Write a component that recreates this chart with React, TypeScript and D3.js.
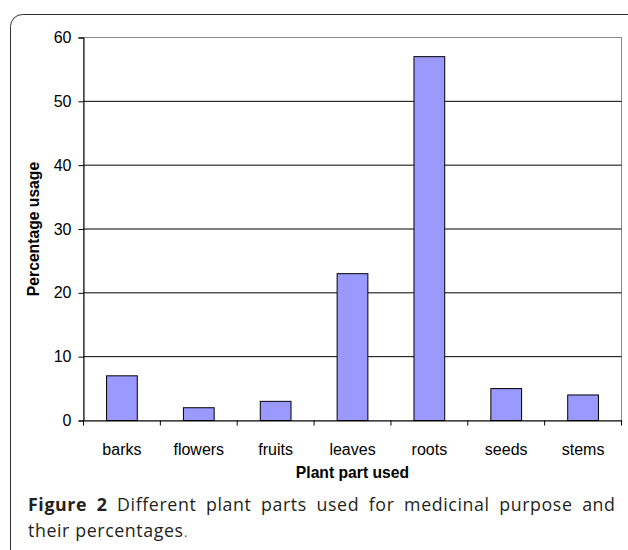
import { useEffect, useRef } from 'react';
import * as d3 from 'd3';

// plant part usage (%)
const categories = ['barks', 'flowers', 'fruits', 'leaves', 'roots', 'seeds', 'stems'];
const percentages = [7, 2, 3, 23, 57, 5, 4];
const yTicks = [0, 10, 20, 30, 40, 50, 60];

const captionBold = ['Figure', '2'];
const captionLine1 = ['Different', 'plant', 'parts', 'used', 'for', 'medicinal', 'purpose', 'and'];
const captionLine2 = 'their percentages';

const W = 628;
const H = 550;
const chartFont = '"Liberation Sans", Arial, sans-serif';
const captionFont = '"Open Sans", "Noto Sans", sans-serif';

const App = () => {
  const ref = useRef<SVGSVGElement>(null);

  useEffect(() => {
    const svg = d3.select(ref.current);
    svg.selectAll('*').remove();

    // outer frame with rounded corners
    svg.append('rect')
      .attr('x', 10.5).attr('y', 14.5)
      .attr('width', 630).attr('height', 600)
      .attr('rx', 12)
      .attr('fill', 'none')
      .attr('stroke', '#333')
      .attr('stroke-width', 1);

    const left = 83.5, right = 621.5, top = 37.5, bottom = 420.5;

    const x = d3.scaleBand().domain(categories).range([left, right]);
    const y = d3.scaleLinear().domain([0, 60]).range([bottom, top]);

    // plot area border
    svg.append('rect')
      .attr('x', left).attr('y', top)
      .attr('width', right - left).attr('height', bottom - top)
      .attr('fill', 'white')
      .attr('stroke', '#888');

    // gridlines
    svg.append('g').selectAll('line')
      .data(yTicks.filter(t => t > 0 && t < 60))
      .enter().append('line')
      .attr('x1', left).attr('x2', right)
      .attr('y1', d => y(d)).attr('y2', d => y(d))
      .attr('stroke', '#000');

    // bars
    const barW = x.bandwidth() * 0.4;
    svg.append('g').selectAll('rect')
      .data(categories)
      .enter().append('rect')
      .attr('x', d => (x(d) as number) + (x.bandwidth() - barW) / 2)
      .attr('y', (d, i) => y(percentages[i]))
      .attr('width', barW)
      .attr('height', (d, i) => bottom - y(percentages[i]))
      .attr('fill', '#9999ff')
      .attr('stroke', '#000')
      .attr('stroke-width', 1);

    // y axis
    const yAxis = svg.append('g')
      .attr('transform', `translate(${left},0)`)
      .call(d3.axisLeft(y).tickValues(yTicks).tickSize(5).tickPadding(7).tickFormat(d3.format('d')));
    yAxis.select('.domain').attr('stroke', '#000');
    yAxis.selectAll('text')
      .attr('font-family', chartFont).attr('font-size', 16).attr('fill', '#000');

    // x axis
    const xAxis = svg.append('g')
      .attr('transform', `translate(0,${bottom})`)
      .call(d3.axisBottom(x).tickSize(0).tickPadding(23));
    xAxis.select('.domain').attr('stroke', '#000');
    xAxis.selectAll('text')
      .attr('font-family', chartFont).attr('font-size', 16).attr('fill', '#000');
    // tick marks on category boundaries
    xAxis.selectAll('line.boundary')
      .data(categories.concat(['end']))
      .enter().append('line')
      .attr('class', 'boundary')
      .attr('x1', (d, i) => left + i * x.bandwidth())
      .attr('x2', (d, i) => left + i * x.bandwidth())
      .attr('y1', 0).attr('y2', 5)
      .attr('stroke', '#000');

    // axis titles
    svg.append('text')
      .attr('x', (left + right) / 2).attr('y', 478)
      .attr('text-anchor', 'middle')
      .attr('font-family', chartFont).attr('font-size', 15.7).attr('font-weight', 'bold')
      .text('Plant part used');

    svg.append('text')
      .attr('transform', `translate(39,${(top + bottom) / 2}) rotate(-90)`)
      .attr('text-anchor', 'middle')
      .attr('font-family', chartFont).attr('font-size', 15.7).attr('font-weight', 'bold')
      .text('Percentage usage');

    // caption, first line justified
    const capLeft = 28, capRight = 615, capSize = 17.8, capSpacing = 0.6;
    const line1 = svg.append('g');
    const words = [
      ...captionBold.map(w => ({ w, bold: true })),
      ...captionLine1.map(w => ({ w, bold: false })),
    ];
    const nodes = words.map(({ w, bold }) =>
      line1.append('text')
        .attr('y', 511)
        .attr('font-family', captionFont)
        .attr('font-size', capSize)
        .attr('letter-spacing', capSpacing)
        .attr('font-weight', bold ? 'bold' : 'normal')
        .attr('fill', '#231f20')
        .text(w)
    );
    const widths = nodes.map(n => (n.node() as SVGTextElement).getComputedTextLength() - capSpacing);
    const gap = (capRight - capLeft - d3.sum(widths)) / (words.length - 1);
    let cx = capLeft;
    nodes.forEach((n, i) => {
      n.attr('x', cx);
      cx += widths[i] + gap;
    });

    const line2 = svg.append('text')
      .attr('x', capLeft).attr('y', 537)
      .attr('font-family', captionFont)
      .attr('font-size', capSize)
      .attr('letter-spacing', capSpacing)
      .attr('fill', '#231f20');
    line2.append('tspan').text(captionLine2);
    line2.append('tspan')
      .attr('font-family', chartFont).attr('font-size', 14).attr('fill', '#555')
      .text('.');
  }, []);

  return (
    <svg
      ref={ref}
      width={W}
      height={H}
      style={{ position: 'absolute', left: 0, top: 0, background: 'white' }}
    />
  );
};

export default App;
